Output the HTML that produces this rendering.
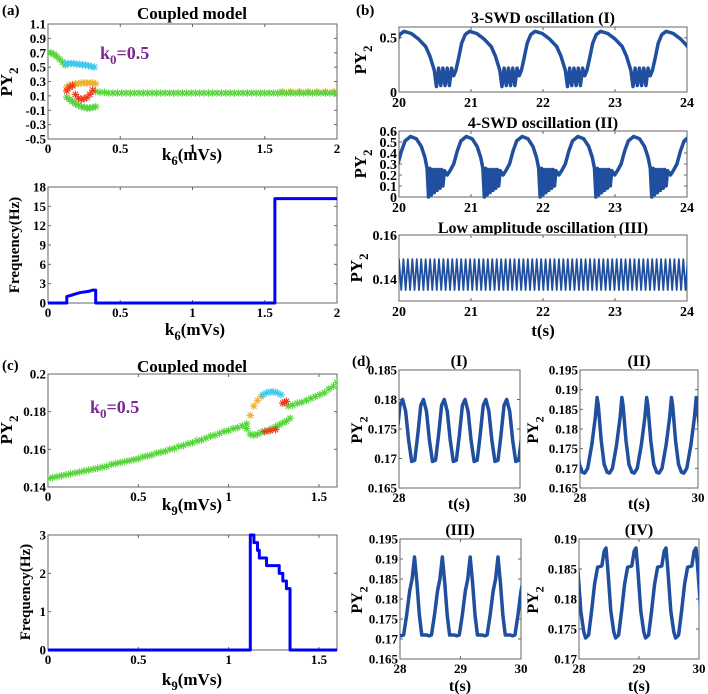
<!DOCTYPE html>
<html><head><meta charset="utf-8">
<style>
html,body{margin:0;padding:0;background:#fff;}
svg{display:block;font-family:"Liberation Serif",serif;font-weight:bold;}
</style></head>
<body>
<svg id="fig" width="708" height="694" viewBox="0 0 708 694" xmlns="http://www.w3.org/2000/svg">
</svg>
<script>
// ---------- Panel (a) bifurcation data (k6 sweep) ----------
const aGreenX = [0,0.02,0.04,0.06,0.08,0.10,0.12];
const aGreenY = [0.70,0.70,0.68,0.65,0.61,0.57,0.53];
const aGreenLowX = [0.13,0.15,0.17,0.19,0.21,0.23,0.25,0.27,0.29,0.31,0.33];
const aGreenLowY = [0.08,0.05,0.02,-0.01,-0.03,-0.05,-0.06,-0.07,-0.07,-0.06,-0.05];
const aCyanX = [0.12,0.14,0.16,0.18,0.20,0.22,0.24,0.26,0.28,0.30,0.32];
const aCyanY = [0.55,0.55,0.55,0.55,0.54,0.54,0.53,0.53,0.52,0.51,0.50];
const aOrangeX = [0.13,0.15,0.17,0.19,0.21,0.23,0.25,0.27,0.29,0.31,0.33,1.62,1.68,1.74,1.80,1.86,1.92,1.98];
const aOrangeY = [0.22,0.25,0.26,0.27,0.27,0.28,0.28,0.28,0.28,0.28,0.27,0.16,0.16,0.16,0.16,0.16,0.16,0.16];
const aRedX = [0.13,0.15,0.17,0.19,0.21,0.23,0.25,0.27,0.29,0.31];
const aRedY = [0.17,0.22,0.24,0.12,0.07,0.05,0.06,0.08,0.12,0.18];
const aFlatStart = 0.33, aFlatStep = 0.03;
const aFlatY = [0.16,0.15,0.15,0.14,0.14,0.14,0.14,0.14,0.14,0.14,0.14,0.14,0.14,0.14,0.14,0.14,0.14,0.14,0.14,0.14,0.14,0.14,0.14,0.14,0.14,0.14,0.14,0.14,0.14,0.14,0.14,0.14,0.14,0.14,0.14,0.14,0.14,0.14,0.14,0.14,0.14,0.14,0.14,0.14,0.14,0.14,0.14,0.14,0.14,0.14,0.14,0.14,0.14,0.14,0.14,0.14];
const aFreqX = [0,0.13,0.13,0.16,0.19,0.22,0.25,0.28,0.31,0.33,0.33,1.57,1.57,2.0];
const aFreqY = [0,0,1.0,1.2,1.4,1.6,1.7,1.8,2.0,2.0,0,0,16.2,16.2];
// ---------- Panel (c) bifurcation data (k9 sweep) ----------
const cMainStart = 0, cMainStep = 0.025;
const cMainY = [.1445,.145,.1455,.146,.1465,.147,.1475,.148,.1485,.149,.1495,.150,.1505,.151,.152,.1525,.153,.1535,.154,.1545,.155,.156,.1565,.157,.158,.1585,.159,.160,.1605,.1615,.162,.163,.1635,.1645,.165,.166,.167,.1675,.1685,.1695,.170,.171,.1715,.1725,.1735];
const cLowX = [1.10,1.12,1.14,1.16,1.18,1.20,1.22,1.24,1.26,1.28,1.30,1.32,1.34];
const cLowY = [.171,.168,.1675,.168,.169,.1695,.170,.171,.172,.173,.174,.175,.1765];
const cUpX = [1.33,1.355,1.38,1.405,1.43,1.455,1.48,1.505,1.53,1.555,1.58,1.60];
const cUpY = [.183,.1835,.1845,.185,.186,.187,.188,.189,.190,.192,.1935,.1955];
const cOrangeX = [1.12,1.14,1.16,1.18];
const cOrangeY = [.178,.183,.186,.188];
const cCyanX = [1.19,1.21,1.23,1.25,1.27,1.29];
const cCyanY = [.189,.190,.1905,.1905,.190,.189];
const cRedX = [1.30,1.31,1.32,1.20,1.23,1.26];
const cRedY = [.1845,.185,.1855,.1695,.170,.1705];
const cFreqX = [0,1.12,1.12,1.14,1.14,1.16,1.16,1.17,1.17,1.21,1.21,1.28,1.28,1.30,1.30,1.32,1.32,1.34,1.34,1.6];
const cFreqY = [0,0,3,3,2.8,2.8,2.6,2.6,2.4,2.4,2.2,2.2,2.0,2.0,1.8,1.8,1.6,1.6,0,0];
// ---------- Panel (b) time series: one cycle each ----------
const b1Period = 0.91, b1Start = 20.07;
const b1CycleT = [0,0.1,0.2,0.3,0.36,0.42,0.45,0.48,0.51,0.54,0.57,0.60,0.63,0.66,0.69,0.72,0.76,0.8,0.85,0.91];
const b1CycleV = [0.56,0.54,0.49,0.42,0.33,0.2,0.05,0.22,0.06,0.22,0.06,0.22,0.06,0.22,0.15,0.2,0.32,0.45,0.53,0.56];
const b2Period = 0.775, b2Start = 20.16;
const b2CycleT = [0,0.08,0.15,0.2,0.23,0.25,0.27,0.29,0.31,0.33,0.35,0.37,0.39,0.41,0.43,0.45,0.47,0.51,0.55,0.6,0.65,0.7,0.775];
const b2CycleV = [0.55,0.53,0.46,0.36,0.26,0.0,0.26,0.02,0.25,0.04,0.25,0.06,0.25,0.08,0.25,0.1,0.24,0.2,0.24,0.3,0.42,0.51,0.55];
const b3Period = 0.0617, b3Start = 20.0;
const b3CycleT = [0,0.0308,0.0617];
const b3CycleV = [0.149,0.135,0.149];
// ---------- Panel (d) time series ----------
const d1Period = 0.344, d1Start = 28.06;
const d1CycleT = [0,0.05,0.1,0.15,0.2,0.25,0.3,0.344];
const d1CycleV = [0.180,0.178,0.173,0.1695,0.1697,0.174,0.179,0.180];
const d2Period = 0.42, d2Start = 28.08;
const d2CycleT = [0,0.05,0.12,0.18,0.21,0.23,0.28,0.33,0.38,0.42];
const d2CycleV = [0.1688,0.170,0.176,0.183,0.188,0.186,0.177,0.171,0.169,0.1688];
const d3Period = 0.46, d3Start = 27.98;
const d3CycleT = [0,0.04,0.08,0.13,0.18,0.22,0.26,0.3,0.34,0.38,0.46];
const d3CycleV = [0.171,0.1708,0.171,0.176,0.182,0.185,0.1905,0.184,0.176,0.171,0.171];
const d4Period = 0.5, d4Start = 28.11;
const d4CycleT = [0,0.05,0.1,0.15,0.2,0.27,0.31,0.34,0.37,0.42,0.47,0.5];
const d4CycleV = [0.1735,0.174,0.178,0.1825,0.1853,0.1855,0.188,0.1885,0.185,0.178,0.1745,0.1735];
// ---------- tick labels ----------
const aTopYTicks = [1.1,0.9,0.7,0.5,0.3,0.1,-0.1,-0.3,-0.5];
const kXTicks = [0,0.5,1,1.5,2];
const aFreqTicks = [0,3,6,9,12,15,18];
const bXTicks = [20,21,22,23,24];
const b1YTicks = [0,0.5];
const b2YTicks = [0,0.1,0.2,0.3,0.4,0.5,0.6];
const b3YTicks = [0.14,0.16];
const cXTicks = [0,0.5,1,1.5];
const cYTicks = [0.14,0.16,0.18,0.2];
const cFreqTicks = [0,1,2,3];
const d1YTicks = [0.165,0.17,0.175,0.18,0.185];
const d2YTicks = [0.165,0.17,0.175,0.18,0.185,0.19,0.195];
const d4YTicks = [0.17,0.175,0.18,0.185,0.19];
const dXTicks2 = [28,30];
const dXTicks3 = [28,29,30];

const NS = "http://www.w3.org/2000/svg";
const svg = document.getElementById('fig');
function mk(tag, attrs, parent){
  const e = document.createElementNS(NS, tag);
  for (const k in attrs) e.setAttribute(k, attrs[k]);
  (parent||svg).appendChild(e);
  return e;
}
function txt(x,y,s,size,anchor,parent,fill){
  const t = mk('text',{x:x,y:y,'font-size':size,'text-anchor':anchor||'middle',fill:fill||'#000'},parent);
  t.textContent = s;
  return t;
}
function fmt(v){ return String(+v.toFixed(3)); }

let clipId = 0;
function makeAxes(name, x0,x1,y0,y1, xmin,xmax,ymin,ymax, xticks,yticks, fs){
  const g = mk('g',{});
  
  
  const sx = v => x0 + (v-xmin)/(xmax-xmin)*(x1-x0);
  const sy = v => y1 - (v-ymin)/(ymax-ymin)*(y1-y0);
  const box = mk('rect',{x:x0,y:y0,width:x1-x0,height:y1-y0,fill:'#fff',stroke:'#666','stroke-width':1},g);
  
  
  const xt = mk('g',{},g);
  
  
  xticks.forEach(v=>{
    const X = sx(v);
    mk('line',{x1:X,x2:X,y1:y1,y2:y1-3,stroke:'#666'},xt);
    mk('line',{x1:X,x2:X,y1:y0,y2:y0+3,stroke:'#666'},xt);
    txt(X, y1+fs+1, fmt(v), fs, 'middle', xt);
  });
  const yt = mk('g',{},g);
  
  
  yticks.forEach(v=>{
    const Y = sy(v);
    mk('line',{x1:x0,x2:x0+3,y1:Y,y2:Y,stroke:'#666'},yt);
    mk('line',{x1:x1,x2:x1-3,y1:Y,y2:Y,stroke:'#666'},yt);
    txt(x0-2, Y+fs*0.35, fmt(v), fs, 'end', yt);
  });
  clipId++;
  const cp = mk('clipPath',{id:'cp'+clipId},g);
  mk('rect',{x:x0,y:y0-2,width:x1-x0,height:y1-y0+4},cp);
  const plot = mk('g',{'clip-path':'url(#cp'+clipId+')'},g);
  return {g, plot, sx, sy};
}
function star(ax, xs, ys, color, name){
  const grp = mk('g',{stroke:color,'stroke-width':1.1},ax.plot);
  
  
  const r = 3.8, d = 2.7;
  for (let i=0;i<xs.length;i++){
    const X = ax.sx(xs[i]), Y = ax.sy(ys[i]);
    mk('path',{d:`M${X-r},${Y}H${X+r}M${X},${Y-r}V${Y+r}M${X-d},${Y-d}L${X+d},${Y+d}M${X-d},${Y+d}L${X+d},${Y-d}`},grp);
  }
}
function line(ax, xs, ys, color, w, name){
  const d = xs.map((v,i)=>(i?'L':'M')+ax.sx(v).toFixed(2)+','+ax.sy(ys[i]).toFixed(2)).join('');
  const p = mk('path',{d:d,fill:'none',stroke:color,'stroke-width':w,'stroke-linejoin':'round','stroke-linecap':'round'},ax.plot);
  
  
}
function tile(start, period, ct, cv, tmin, tmax){
  const xs=[], ys=[];
  let k = Math.floor((tmin-start)/period)-1;
  for (; start + k*period <= tmax+period; k++){
    for (let i=0;i<ct.length;i++){
      if (i===0 && xs.length) continue;
      xs.push(start + k*period + ct[i]); ys.push(cv[i]);
    }
  }
  return [xs, ys];
}
function pyLabel(x,y,size,name){
  const t = mk('text',{x:0,y:0,'font-size':size,'text-anchor':'middle',transform:`translate(${x},${y}) rotate(-90)`});
  
  
  t.appendChild(document.createTextNode('PY'));
  const s = mk('tspan',{dy:size*0.35,'font-size':size*0.75},t); s.textContent='2';
  return t;
}
function kLabel(x,y,sub,name,size){
  const sz = size||17;
  const t = mk('text',{x:x,y:y,'font-size':sz,'text-anchor':'middle'});
  
  
  t.appendChild(document.createTextNode('k'));
  const s = mk('tspan',{dy:5,'font-size':sz*0.75},t); s.textContent=sub;
  const r = mk('tspan',{dy:-5},t); r.textContent='(mVs)';
}
function label(x,y,s,size,name,anchor,rot,fill){
  const t = mk('text',{x:0,y:0,'font-size':size,'text-anchor':anchor||'middle',fill:fill||'#000',transform:`translate(${x},${y})`+(rot?' rotate(-90)':'')});
  t.textContent = s;
  
  
  return t;
}

// ===== Panel (a) =====
label(2,15,'(a)',15,'panel-a-label','start');
label(192,19,'Coupled model',17,'panel-a-title');
const A1 = makeAxes('panel-a-bifurcation',48,337,24,139,0,2,-0.5,1.1,kXTicks,aTopYTicks,13);
const aFlatX = aFlatY.map((_,i)=>aFlatStart+i*aFlatStep);
star(A1,aOrangeX,aOrangeY,'#f0b030','a-orange');
star(A1,aFlatX,aFlatY,'#55d43a','a-green-flat');
star(A1,aGreenX,aGreenY,'#55d43a','a-green-upper');
star(A1,aCyanX,aCyanY,'#3cc8f0','a-cyan');
star(A1,aGreenLowX,aGreenLowY,'#55d43a','a-green-lower');
star(A1,aRedX,aRedY,'#f03a20','a-red');
const k0a = mk('text',{x:100,y:59,'font-size':18,fill:'#7a2a90','text-anchor':'start'});


k0a.appendChild(document.createTextNode('k'));
let tsp = mk('tspan',{dy:5,'font-size':13},k0a); tsp.textContent='0';
tsp = mk('tspan',{dy:-5},k0a); tsp.textContent='=0.5';
pyLabel(12,82,17,'panel-a-y-title');
kLabel(192,160,'6','panel-a-x-title');

const A2 = makeAxes('panel-a-frequency',48,337,187,303,0,2,0,18,kXTicks,aFreqTicks,13);
line(A2,aFreqX,aFreqY,'#0000ff',3,'a-frequency-line');
label(19,245,'Frequency(Hz)',15,'panel-a-freq-y-title','middle',true);
kLabel(195,335,'6','panel-a-freq-x-title');

// ===== Panel (b) =====
label(356,15,'(b)',15,'panel-b-label','start');
label(543,23,'3-SWD oscillation (I)',16,'panel-b1-title');
const B1 = makeAxes('panel-b1',399,687,27,92,20,24,0,0.6,bXTicks,b1YTicks,14);
let tv = tile(b1Start,b1Period,b1CycleT,b1CycleV,20,24);
line(B1,tv[0],tv[1],'#1f4f9e',3.5,'b1-series');
pyLabel(366,60,17,'panel-b1-y-title');

label(543,128,'4-SWD oscillation (II)',16,'panel-b2-title');
const B2 = makeAxes('panel-b2',399,687,131,197,20,24,0,0.6,bXTicks,b2YTicks,14);
tv = tile(b2Start,b2Period,b2CycleT,b2CycleV,20,24);
line(B2,tv[0],tv[1],'#1f4f9e',3.5,'b2-series');
pyLabel(366,164,17,'panel-b2-y-title');

label(543,233,'Low amplitude oscillation (III)',16,'panel-b3-title');
const B3 = makeAxes('panel-b3',399,687,235,301,20,24,0.13,0.16,bXTicks,b3YTicks,14);
tv = tile(b3Start,b3Period,b3CycleT,b3CycleV,20,24);
line(B3,tv[0],tv[1],'#1f4f9e',1.8,'b3-series');
pyLabel(362,268,17,'panel-b3-y-title');
label(543,336,'t(s)',17,'panel-b-x-title');

// ===== Panel (c) =====
label(2,370,'(c)',15,'panel-c-label','start');
label(192,372,'Coupled model',17,'panel-c-title');
const C1 = makeAxes('panel-c-bifurcation',48,337,374,487,0,1.6,0.14,0.2,cXTicks,cYTicks,13);
const cMainX = cMainY.map((_,i)=>cMainStart+i*cMainStep);
star(C1,cMainX,cMainY,'#55d43a','c-green-main');
star(C1,cLowX,cLowY,'#55d43a','c-green-lower');
star(C1,cUpX,cUpY,'#55d43a','c-green-upper');
star(C1,cOrangeX,cOrangeY,'#f0b030','c-orange');
star(C1,cCyanX,cCyanY,'#3cc8f0','c-cyan');
star(C1,cRedX,cRedY,'#f03a20','c-red');
const k0c = mk('text',{x:90,y:413,'font-size':18,fill:'#7a2a90','text-anchor':'start'});


k0c.appendChild(document.createTextNode('k'));
tsp = mk('tspan',{dy:5,'font-size':13},k0c); tsp.textContent='0';
tsp = mk('tspan',{dy:-5},k0c); tsp.textContent='=0.5';
pyLabel(12,430,17,'panel-c-y-title');
kLabel(192,510,'9','panel-c-x-title');

const C2 = makeAxes('panel-c-frequency',48,337,535,650,0,1.6,0,3,cXTicks,cFreqTicks,13);
line(C2,cFreqX,cFreqY,'#0000ff',3,'c-frequency-line');
label(30,592,'Frequency(Hz)',15,'panel-c-freq-y-title','middle',true);
kLabel(192,685,'9','panel-c-freq-x-title');

// ===== Panel (d) =====
label(352,366,'(d)',15,'panel-d-label','start');
label(459,366,'(I)',16,'panel-d1-title');
const D1 = makeAxes('panel-d1',399,520,370,488,28,30,0.165,0.185,dXTicks2,d1YTicks,13);
tv = tile(d1Start,d1Period,d1CycleT,d1CycleV,28,30);
line(D1,tv[0],tv[1],'#1f4f9e',3.5,'d1-series');
pyLabel(362,430,16,'panel-d1-y-title');
label(459,509,'t(s)',16,'panel-d1-x-title');

label(639,366,'(II)',16,'panel-d2-title');
const D2 = makeAxes('panel-d2',580,698,370,488,28,30,0.165,0.195,dXTicks2,d2YTicks,13);
tv = tile(d2Start,d2Period,d2CycleT,d2CycleV,28,30);
line(D2,tv[0],tv[1],'#1f4f9e',3.5,'d2-series');
pyLabel(538,430,16,'panel-d2-y-title');
label(639,509,'t(s)',16,'panel-d2-x-title');

label(460,535,'(III)',16,'panel-d3-title');
const D3 = makeAxes('panel-d3',400,521,539,659,28,30,0.165,0.195,dXTicks3,d2YTicks,13);
tv = tile(d3Start,d3Period,d3CycleT,d3CycleV,28,30);
line(D3,tv[0],tv[1],'#1f4f9e',3.5,'d3-series');
pyLabel(362,600,16,'panel-d3-y-title');
label(460,691,'t(s)',16,'panel-d3-x-title');

label(639,535,'(IV)',16,'panel-d4-title');
const D4 = makeAxes('panel-d4',579,699,539,659,28,30,0.17,0.19,dXTicks3,d4YTicks,13);
tv = tile(d4Start,d4Period,d4CycleT,d4CycleV,28,30);
line(D4,tv[0],tv[1],'#1f4f9e',3.5,'d4-series');
pyLabel(538,600,16,'panel-d4-y-title');
label(639,691,'t(s)',16,'panel-d4-x-title');
</script>
</body></html>
